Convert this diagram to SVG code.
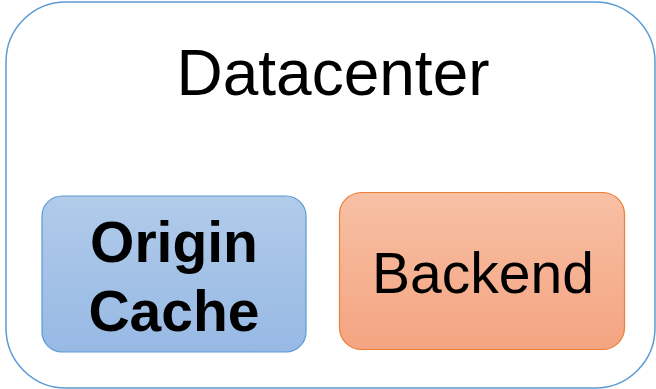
<svg xmlns="http://www.w3.org/2000/svg" width="656" height="389" viewBox="0 0 656 389">
  <defs>
    <linearGradient id="gradBlue" x1="0" y1="0" x2="0" y2="1">
      <stop offset="0" stop-color="#b1cbea"/>
      <stop offset="1" stop-color="#97b9e4"/>
    </linearGradient>
    <linearGradient id="gradOrange" x1="0" y1="0" x2="0" y2="1">
      <stop offset="0" stop-color="#f7c0a5"/>
      <stop offset="1" stop-color="#f4a481"/>
    </linearGradient>
  </defs>
  <style>
    text { font-family: "Liberation Sans", Arial, sans-serif; fill: #000; text-anchor: middle; }
    .title { font-size: 64px; }
    .bold { font-size: 57px; font-weight: bold; }
    .plain { font-size: 57px; }
  </style>
  <rect width="656" height="389" fill="#ffffff"/>
  <g id="datacenter">
    <rect x="6" y="2" width="649" height="386" rx="60" ry="60" fill="#ffffff" stroke="#5b9bd5" stroke-width="1.5"/>
    <text class="title" x="333" y="95">Datacenter</text>
  </g>
  <g id="origin-cache">
    <rect x="42" y="196" width="264" height="156" rx="20" ry="20" fill="url(#gradBlue)" stroke="#5b9bd5" stroke-width="1.2"/>
    <text class="bold" x="174" y="262">Origin</text>
    <text class="bold" x="174" y="331">Cache</text>
  </g>
  <g id="backend">
    <rect x="339.5" y="192.5" width="285" height="157" rx="22" ry="22" fill="url(#gradOrange)" stroke="#ed7d31" stroke-width="1.2"/>
    <text class="plain" x="483" y="293">Backend</text>
  </g>
  <g id="connectors"/>
</svg>
